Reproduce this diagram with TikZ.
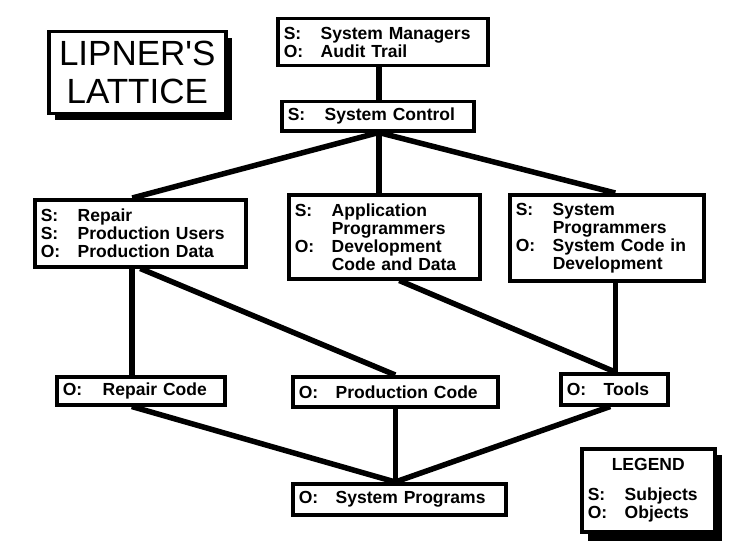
\documentclass[tikz,border=0pt]{standalone}
\usepackage{fontspec}
\setmainfont{Liberation Sans}
\newcommand\lbl[2]{\makebox[37pt][l]{#1}#2}
\begin{document}
\begin{tikzpicture}[x=1pt,y=1pt,
  box/.style={draw,line width=3.5pt,anchor=north west,inner xsep=6pt,inner ysep=0pt,align=left,
    font=\bfseries\fontsize{17.5}{18}\selectfont},
  conn/.style={line width=5.5pt}]
\useasboundingbox (0,0) rectangle (729,-551);
% shadows
\fill (55,-38) rectangle (232,-120);
\fill (588,-455) rectangle (722,-541);
\node[box,fill=white,minimum width=177,minimum height=82,align=center,inner xsep=0pt,
  font=\fontsize{35}{38}\selectfont] (title) at (47,-30) {LIPNER\textquotesingle S\\LATTICE};
\node[box,fill=white,minimum width=133,minimum height=83,text width=121] (leg) at (580,-447)
  {\hfill LEGEND\hfill\null\\[12pt]\lbl{S:}{Subjects}\\\lbl{O:}{Objects}};
\node[box,minimum width=210,minimum height=47,text width=198] (top) at (276,-17)
  {\lbl{S:}{System Managers}\\\lbl{O:}{Audit Trail}\\[-2pt]};
\node[box,minimum width=192,minimum height=29,text width=180] (sc) at (280,-100)
  {\lbl{S:}{System Control}};
\node[box,minimum width=211,minimum height=67,text width=199] (rep) at (33,-198)
  {\lbl{S:}{Repair}\\\lbl{S:}{Production Users}\\\lbl{O:}{Production Data}};
\node[box,minimum width=191,minimum height=84,text width=179] (app) at (287,-193)
  {\lbl{S:}{Application}\\\lbl{}{Programmers}\\\lbl{O:}{Development}\\\lbl{}{Code and Data}\\[1pt]};
\node[box,minimum width=194,minimum height=86,text width=182] (sp) at (508,-193)
  {\lbl{S:}{System}\\\lbl{}{Programmers}\\\lbl{O:}{System Code in}\\\lbl{}{Development}\\[3pt]};
\node[box,minimum width=168,minimum height=28,text width=156] (rc) at (55,-375)
  {\lbl{O:}{\hspace{3pt}Repair Code}};
\node[box,minimum width=205,minimum height=30,text width=193] (pc) at (291,-375)
  {\lbl{O:}{Production Code}};
\node[box,minimum width=107,minimum height=31,text width=95] (tools) at (559,-372)
  {\lbl{O:}{Tools}\\[2pt]};
\node[box,minimum width=213,minimum height=31,text width=201] (sys) at (291,-482)
  {\lbl{O:}{System Programs}};
\coordinate (scb) at ([xshift=1pt]sc.south);
\coordinate (spn) at ([xshift=-4pt]sys.north);
\coordinate (tn) at ([xshift=1pt]tools.north);
% connectors
\draw[conn] (scb |- top.south) -- (scb |- sc.north);
\draw[conn] (scb) -- ([xshift=-8pt]rep.north);
\draw[conn] (scb) -- (scb |- app.north);
\draw[conn] (scb) -- (tn |- sp.north);
\draw[conn] ([xshift=-9pt]rc.north |- rep.south) -- ([xshift=-9pt]rc.north);
\draw[conn] (rep.south) -- (pc.north);
\draw[conn] ([xshift=15pt]app.south) -- (tn);
\draw[conn] (tn |- sp.south) -- (tn);
\draw[conn] ([xshift=-9pt]rc.south) -- (spn);
\draw[conn] (spn |- pc.south) -- (spn);
\draw[conn] ([xshift=-4pt]tools.south) -- (spn);
\end{tikzpicture}
\end{document}
